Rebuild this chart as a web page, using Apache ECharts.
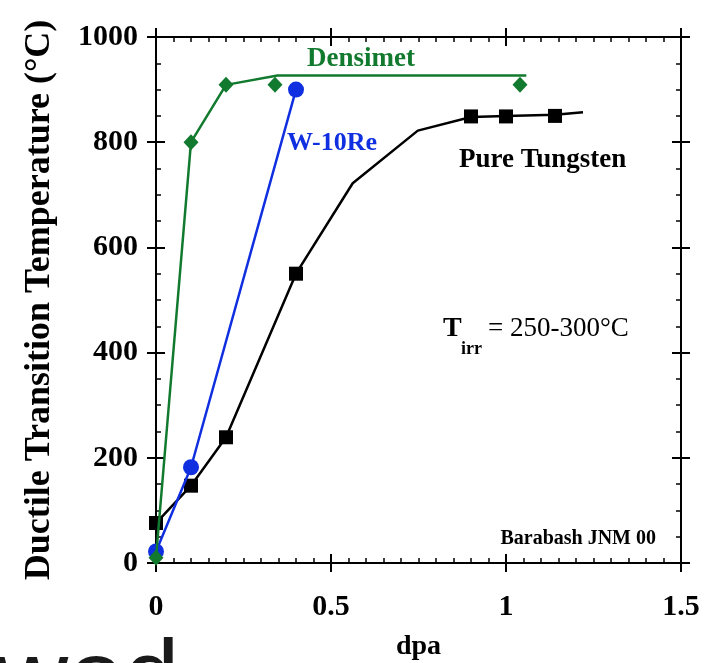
<!DOCTYPE html>
<html><head><meta charset="utf-8">
<script src="https://cdn.jsdelivr.net/npm/echarts@6/dist/echarts.min.js"></script>
<style>html,body{margin:0;padding:0;background:#fff}#c{width:719px;height:663px}</style>
</head><body><div id="c"></div>
<script>
// ---- data ----
const xTicks = [0, 0.5, 1, 1.5];
const yTicks = [0, 200, 400, 600, 800, 1000];
const tungstenLine = [[0,76],[0.1,147],[0.2,239],[0.4,550],[0.562,722],[0.748,822],[0.9,848],[1.0,850],[1.14,852],[1.22,857]];
const tungstenPts  = [[0,76],[0.1,147],[0.2,239],[0.4,550],[0.9,849],[1.0,849],[1.14,850]];
const w10ReLine    = [[0,22],[0.1,182],[0.4,900]];
const w10RePts     = [[0,22],[0.1,182],[0.4,900]];
const densimetLine = [[0,10],[0.1,800],[0.2,909],[0.347,927],[1.058,927]];
const densimetPts  = [[0,10],[0.1,800],[0.2,909],[0.34,909],[1.04,909]];
const xTitle = 'dpa';
const yTitle = 'Ductile Transition Temperature (°C)';

// ---- styling ----
const SERIF = '"Liberation Serif", "Times New Roman", serif';
const GREEN = '#127a2e', BLUE = '#0f2fe0', BLACK = '#000';
const xMin = xTicks[0], xMax = xTicks[xTicks.length-1], xInt = xTicks[1]-xTicks[0];
const yMin = yTicks[0], yMax = yTicks[yTicks.length-1], yInt = yTicks[1]-yTicks[0];
const lineSt = {color:'#000', width:2};

function xa(pos, inside, labels, extra) {
  return Object.assign({
    type:'value', position:pos, min:xMin, max:xMax, interval:xInt,
    axisLine:{show:true, onZero:false, lineStyle:lineSt},
    axisTick:{show:true, inside:inside, length:9, lineStyle:lineSt},
    minorTick:{show:inside, splitNumber:10, length:5, lineStyle:{color:'#000', width:1.5}},
    axisLabel:{show:labels, color:'#000', fontFamily:SERIF, fontWeight:'bold', fontSize:30, margin:29,
      formatter: v => String(v)},
    splitLine:{show:false}, minorSplitLine:{show:false}
  }, extra||{});
}
function ya(pos, inside, labels, extra) {
  return Object.assign({
    type:'value', position:pos, min:yMin, max:yMax, interval:yInt,
    axisLine:{show:true, onZero:false, lineStyle:lineSt},
    axisTick:{show:true, inside:inside, length:9, lineStyle:lineSt},
    minorTick:{show:inside, splitNumber:4, length:5, lineStyle:{color:'#000', width:1.5}},
    axisLabel:{show:labels, color:'#000', fontFamily:SERIF, fontWeight:'bold', fontSize:30, margin:18,
      formatter: v => String(v)},
    splitLine:{show:false}, minorSplitLine:{show:false}
  }, extra||{});
}

const chart = echarts.init(document.getElementById('c'), null, {renderer:'canvas'});
chart.setOption({
  animation:false,
  backgroundColor:'#fff',
  grid:{left:156, right:38, top:37, bottom:100, containLabel:false, outerBoundsMode:'none'},
  xAxis:[
    xa('bottom', false, true, {name:xTitle, nameLocation:'middle', nameGap:70,
      nameTextStyle:{color:'#000', fontFamily:SERIF, fontWeight:'bold', fontSize:28}}),
    xa('bottom', true, false),
    xa('top', true, false),
    xa('top', false, false)
  ],
  yAxis:[
    ya('left', false, true, {name:yTitle, nameLocation:'middle', nameGap:98, nameRotate:90,
      nameTextStyle:{color:'#000', fontFamily:SERIF, fontWeight:'bold', fontSize:36}}),
    ya('left', true, false),
    ya('right', true, false),
    ya('right', false, false)
  ],
  series:[
    {type:'line', data:tungstenLine, showSymbol:false, symbol:'none', lineStyle:{color:BLACK, width:2.5}, z:2},
    {type:'scatter', data:tungstenPts, symbol:'rect', symbolSize:14, itemStyle:{color:BLACK, opacity:1}, z:3},
    {type:'line', data:w10ReLine, showSymbol:false, symbol:'none', lineStyle:{color:BLUE, width:2.5}, z:4},
    {type:'scatter', data:w10RePts, symbol:'circle', symbolSize:16, itemStyle:{color:BLUE, opacity:1}, z:5},
    {type:'line', data:densimetLine, showSymbol:false, symbol:'none', lineStyle:{color:GREEN, width:2.5}, z:6},
    {type:'scatter', data:densimetPts, symbol:'diamond', symbolSize:[15,16], itemStyle:{color:GREEN, opacity:1}, z:7}
  ],
  graphic:[
    {type:'text', x:361, y:59, z:10, style:{text:'Densimet', fill:GREEN, font:'bold 27px '+SERIF, align:'center', verticalAlign:'middle'}},
    {type:'text', x:287, y:143, z:10, style:{text:'W-10Re', fill:BLUE, font:'bold 26px '+SERIF, align:'left', verticalAlign:'middle'}},
    {type:'text', x:459, y:160, z:10, style:{text:'Pure Tungsten', fill:BLACK, font:'bold 27px '+SERIF, align:'left', verticalAlign:'middle'}},
    {type:'text', x:443, y:329, z:10, style:{text:'T', fill:BLACK, font:'bold 28px '+SERIF, align:'left', verticalAlign:'middle'}},
    {type:'text', x:461, y:349, z:10, style:{text:'irr', fill:BLACK, font:'bold 18px '+SERIF, align:'left', verticalAlign:'middle'}},
    {type:'text', x:488, y:329, z:10, style:{text:'= 250-300°C', fill:BLACK, font:'27px '+SERIF, align:'left', verticalAlign:'middle'}},
    {type:'text', x:656, y:539, z:10, style:{text:'Barabash JNM 00', fill:BLACK, font:'bold 20px '+SERIF, align:'right', verticalAlign:'middle'}},
    {type:'text', x:-4, y:682, z:10, style:{text:'wod', fill:'#1a1a1a', font:'100px "Liberation Sans", Arial, sans-serif', align:'left', verticalAlign:'middle'}}
  ]
});
</script>
</body></html>
